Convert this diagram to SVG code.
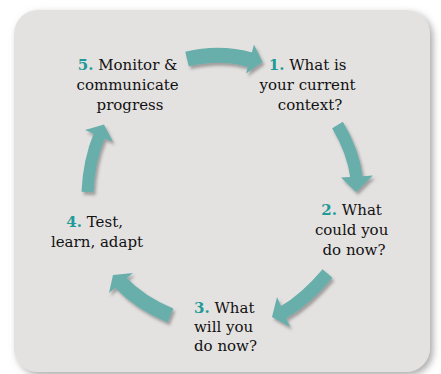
<svg xmlns="http://www.w3.org/2000/svg" width="441" height="374" viewBox="0 0 441 374">
  <defs>
    <filter id="panelShadow" x="-10%" y="-10%" width="125%" height="125%">
      <feDropShadow dx="3" dy="3" stdDeviation="3.5" flood-color="#707070" flood-opacity="0.6"/>
    </filter>
    <filter id="arrowShadow" x="-20%" y="-20%" width="150%" height="150%">
      <feDropShadow dx="2" dy="3" stdDeviation="1.8" flood-color="#4a4a4a" flood-opacity="0.45"/>
    </filter>
    <style>
      .panel { fill: #e4e2e1; }
      .shaft { fill: none; stroke: #68afac; stroke-linecap: butt; }
      .head { fill: #68afac; }
      .label { font-family: "DejaVu Serif", "Liberation Serif", serif; font-size: 15px; fill: #111111; }
      .num { fill: #1e9a97; font-weight: bold; }
    </style>
  </defs>

  <rect width="441" height="374" fill="#ffffff"/>
  <rect class="panel" x="14" y="10" width="416" height="362" rx="24" ry="24" filter="url(#panelShadow)"/>

  <!-- connectors: five curved block arrows forming the cycle -->
  <g id="connectors" filter="url(#arrowShadow)">
    <!-- 5 -> 1 -->
    <g id="arrow-5-1">
      <path class="shaft" stroke-width="15" d="M187,59 Q220,51 251,60"/>
      <polygon class="head" points="254,44.5 262.5,62 246,73.5"/>
    </g>
    <!-- 1 -> 2 -->
    <g id="arrow-1-2">
      <path class="shaft" stroke-width="12.5" d="M337.5,125 Q353,151 356.5,177"/>
      <polygon class="head" points="341,177.5 373,175.5 356,192"/>
    </g>
    <!-- 2 -> 3 -->
    <g id="arrow-2-3">
      <path class="shaft" stroke-width="13" d="M327.5,273.5 Q305,300 283,312.5"/>
      <polygon class="head" points="277,297 272,317 290,327"/>
    </g>
    <!-- 3 -> 4 -->
    <g id="arrow-3-4">
      <path class="shaft" stroke-width="15" d="M170.5,315.5 Q140,303 120,282"/>
      <polygon class="head" points="133,273 113,275 109,293"/>
    </g>
    <!-- 4 -> 5 -->
    <g id="arrow-4-5">
      <path class="shaft" stroke-width="12" d="M87.5,192 Q89,160 99.5,135"/>
      <polygon class="head" points="85,130 104,124.5 113,142"/>
    </g>
  </g>

  <!-- step labels -->
  <g id="step-1">
    <text class="label" text-anchor="middle">
      <tspan x="310" y="70"><tspan class="num">1.</tspan> What is</tspan>
      <tspan x="310" y="90">your current</tspan>
      <tspan x="310" y="110">context?</tspan>
    </text>
  </g>
  <g id="step-2">
    <text class="label" text-anchor="middle">
      <tspan x="354" y="215"><tspan class="num">2.</tspan> What</tspan>
      <tspan x="354" y="235">could you</tspan>
      <tspan x="354" y="255">do now?</tspan>
    </text>
  </g>
  <g id="step-3">
    <text class="label">
      <tspan x="194" y="313"><tspan class="num">3.</tspan> What</tspan>
      <tspan x="194" y="332">will you</tspan>
      <tspan x="194" y="351">do now?</tspan>
    </text>
  </g>
  <g id="step-4">
    <text class="label" text-anchor="middle">
      <tspan x="97" y="227"><tspan class="num">4.</tspan> Test,</tspan>
      <tspan x="97" y="247">learn, adapt</tspan>
    </text>
  </g>
  <g id="step-5">
    <text class="label" text-anchor="middle">
      <tspan x="130" y="70"><tspan class="num">5.</tspan> Monitor &amp;</tspan>
      <tspan x="130" y="90">communicate</tspan>
      <tspan x="130" y="110">progress</tspan>
    </text>
  </g>
</svg>
